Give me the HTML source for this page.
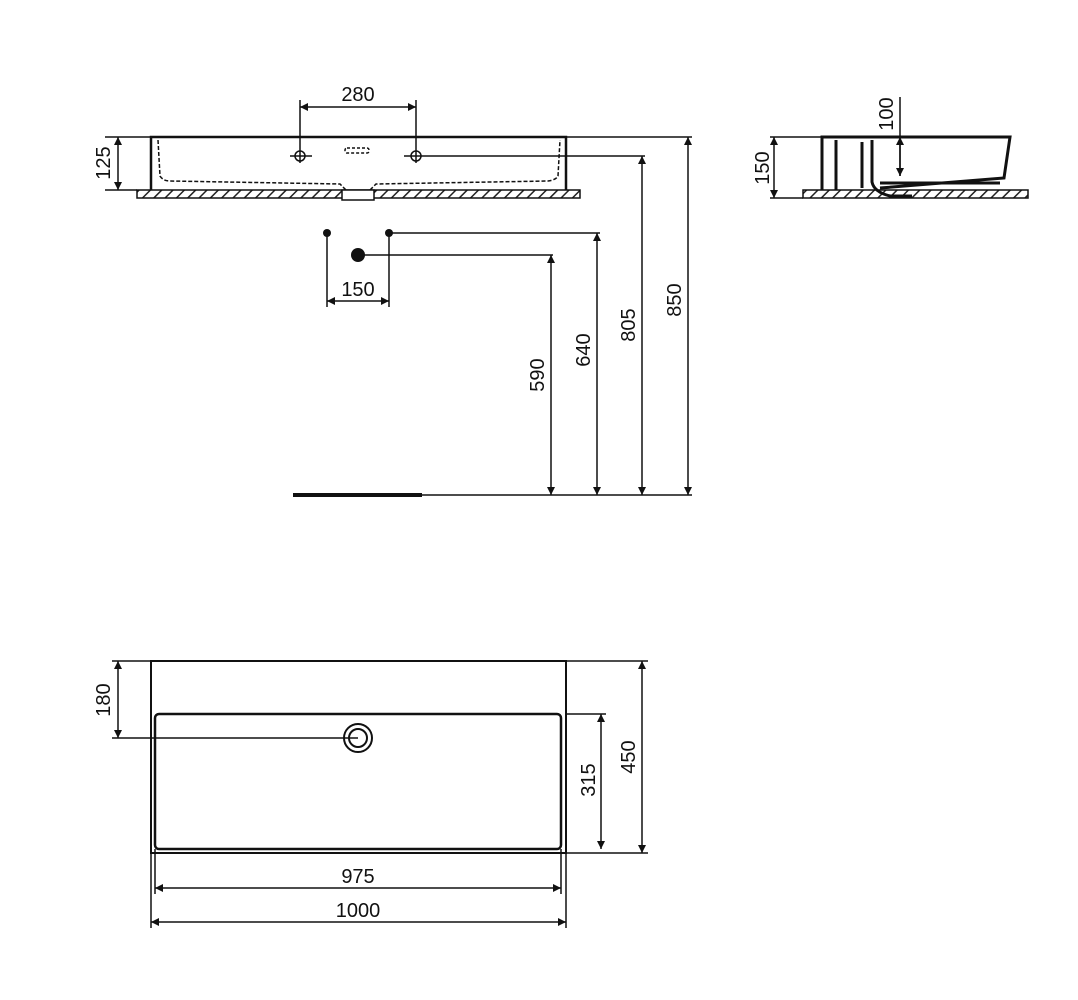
<!DOCTYPE html><html><head><style>body{margin:0;background:#fff}svg{display:block}text{font-family:"Liberation Sans",sans-serif;font-size:20px;fill:#111}</style></head><body>
<svg width="1078" height="1000" viewBox="0 0 1078 1000">
<defs>
<marker id="a" viewBox="0 0 10 10" refX="10" refY="5" markerWidth="14" markerHeight="8" orient="auto-start-reverse" markerUnits="userSpaceOnUse"><path d="M0,0L10,5L0,10z" fill="#111"/></marker>
<pattern id="h" width="8" height="8" patternUnits="userSpaceOnUse" patternTransform="rotate(45)"><rect width="8" height="8" fill="#fff"/><line x1="0" y1="0" x2="0" y2="8" stroke="#222" stroke-width="3"/></pattern>
</defs>
<g stroke="#111" fill="none" stroke-width="1.5">
<rect x="137" y="190" width="443" height="8" fill="url(#h)" stroke-width="1.5"/>
<rect x="342" y="190" width="32" height="10" fill="#fff"/>
<path d="M151,190V137H566V190" stroke-width="2.5"/>
<path d="M158,140L160,176Q163,181 170,181L340,184 346,190M370,190L376,184 548,181Q556,180 558,176L560,140" stroke-dasharray="4,2"/>
<rect x="345" y="148" width="24" height="5" rx="2" stroke-dasharray="3,2"/>
<circle cx="300" cy="156" r="5"/><circle cx="416" cy="156" r="5"/>
<path d="M290,156H312M404,156H645"/>
<path d="M300,100V163M416,100V163"/>
<path d="M300,107H416" marker-start="url(#a)" marker-end="url(#a)"/>
<path d="M105,137H151M566,137H692M105,190H137"/>
<path d="M118,137V190" marker-start="url(#a)" marker-end="url(#a)"/>
<path d="M389,233H600M358,255H553"/>
<path d="M327,233V307M389,233V307"/>
<path d="M327,301H389" marker-start="url(#a)" marker-end="url(#a)"/>
<path d="M551,255V495" marker-start="url(#a)" marker-end="url(#a)"/>
<path d="M597,233V495" marker-start="url(#a)" marker-end="url(#a)"/>
<path d="M642,156V495" marker-start="url(#a)" marker-end="url(#a)"/>
<path d="M688,137V495" marker-start="url(#a)" marker-end="url(#a)"/>
<path d="M422,495H692"/>
<path d="M293,495H422" stroke-width="4"/>
<rect x="803" y="190" width="225" height="8" fill="url(#h)" stroke-width="1.5"/>
<path d="M822,190V137H1010L1004,178 880,188M822,137V185M836,140V190M862,142V188M872,140V182Q874,192 890,196H912M880,183H1000" stroke-width="3"/>
<path d="M770,137H822M770,198H803"/>
<path d="M774,137V198" marker-start="url(#a)" marker-end="url(#a)"/>
<path d="M900,97V176"/>
<path d="M900,137V176" marker-start="url(#a)" marker-end="url(#a)"/>
<rect x="151" y="661" width="415" height="192" stroke-width="2"/>
<rect x="155" y="714" width="406" height="135" rx="4" stroke-width="2.5"/>
<circle cx="358" cy="738" r="14" stroke-width="2"/><circle cx="358" cy="738" r="9" stroke-width="2"/>
<path d="M112,661H151M566,661H648M112,738H358M566,714H606M566,853H648"/>
<path d="M118,661V738" marker-start="url(#a)" marker-end="url(#a)"/>
<path d="M601,714V849" marker-start="url(#a)" marker-end="url(#a)"/>
<path d="M642,661V853" marker-start="url(#a)" marker-end="url(#a)"/>
<path d="M151,853V928M566,853V928M155,849V894M561,849V894"/>
<path d="M155,888H561" marker-start="url(#a)" marker-end="url(#a)"/>
<path d="M151,922H566" marker-start="url(#a)" marker-end="url(#a)"/>
</g>
<circle cx="327" cy="233" r="4" fill="#111"/><circle cx="389" cy="233" r="4" fill="#111"/><circle cx="358" cy="255" r="7" fill="#111"/>
<text x="358" y="101" text-anchor="middle">280</text>
<text x="358" y="296" text-anchor="middle">150</text>
<text x="358" y="883" text-anchor="middle">975</text>
<text x="358" y="917" text-anchor="middle">1000</text>
<g text-anchor="middle">
<text transform="translate(110,163) rotate(-90)">125</text>
<text transform="translate(544,375) rotate(-90)">590</text>
<text transform="translate(590,350) rotate(-90)">640</text>
<text transform="translate(635,325) rotate(-90)">805</text>
<text transform="translate(681,300) rotate(-90)">850</text>
<text transform="translate(769,168) rotate(-90)">150</text>
<text transform="translate(893,114) rotate(-90)">100</text>
<text transform="translate(110,700) rotate(-90)">180</text>
<text transform="translate(595,780) rotate(-90)">315</text>
<text transform="translate(635,757) rotate(-90)">450</text>
</g>
</svg></body></html>
